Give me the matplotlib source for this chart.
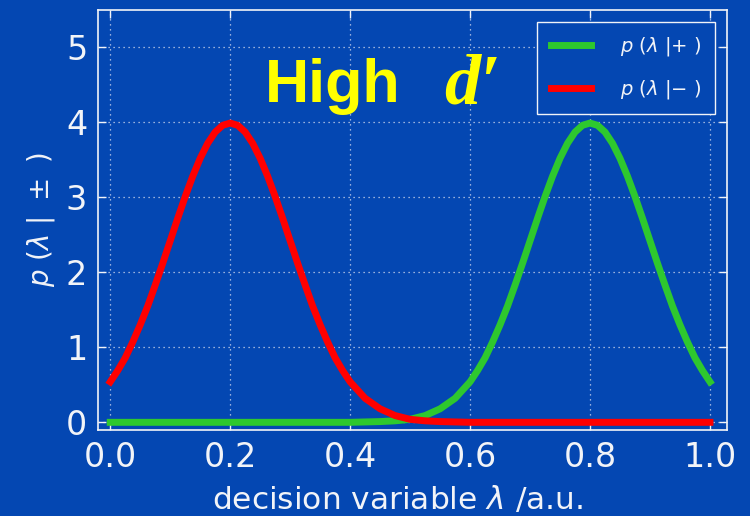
import matplotlib
matplotlib.use("Agg")
import matplotlib.pyplot as plt

# values (density curves)
x_minus = [0.0, 0.0125, 0.025, 0.0375, 0.05, 0.0625, 0.075, 0.0875, 0.1, 0.1125,
           0.125, 0.1375, 0.15, 0.1625, 0.175, 0.1875, 0.2, 0.2125, 0.225, 0.2375,
           0.25, 0.2625, 0.275, 0.2875, 0.3, 0.3125, 0.325, 0.3375, 0.35, 0.3625,
           0.375, 0.3875, 0.4, 0.425, 0.45, 0.475, 0.5, 0.525, 0.55, 0.6, 0.7,
           0.8, 0.9, 1.0]
y_minus = [0.54, 0.69, 0.86, 1.07, 1.30, 1.55, 1.83, 2.12, 2.42, 2.72,
           3.01, 3.28, 3.52, 3.72, 3.87, 3.96, 3.99, 3.96, 3.87, 3.72,
           3.52, 3.28, 3.01, 2.72, 2.42, 2.12, 1.83, 1.55, 1.30, 1.07,
           0.86, 0.69, 0.54, 0.32, 0.18, 0.09, 0.04, 0.02, 0.01, 0.0, 0.0,
           0.0, 0.0, 0.0]

x_plus = [0.0, 0.1, 0.2, 0.3, 0.4, 0.45, 0.475, 0.5, 0.525, 0.55, 0.575,
          0.6, 0.6125, 0.625, 0.6375, 0.65, 0.6625, 0.675, 0.6875, 0.7, 0.7125,
          0.725, 0.7375, 0.75, 0.7625, 0.775, 0.7875, 0.8, 0.8125, 0.825, 0.8375,
          0.85, 0.8625, 0.875, 0.8875, 0.9, 0.9125, 0.925, 0.9375, 0.95, 0.9625,
          0.975, 0.9875, 1.0]
y_plus = [0.0, 0.0, 0.0, 0.0, 0.0, 0.01, 0.02, 0.04, 0.09, 0.18, 0.32,
          0.54, 0.69, 0.86, 1.07, 1.30, 1.55, 1.83, 2.12, 2.42, 2.72,
          3.01, 3.28, 3.52, 3.72, 3.87, 3.96, 3.99, 3.96, 3.87, 3.72,
          3.52, 3.28, 3.01, 2.72, 2.42, 2.12, 1.83, 1.55, 1.30, 1.07,
          0.86, 0.69, 0.54]

x_ticks = [0.0, 0.2, 0.4, 0.6, 0.8, 1.0]
y_ticks = [0, 1, 2, 3, 4, 5]

bg = "#0447b2"
fg = "#f2f4f8"

plt.rcParams["mathtext.fontset"] = "dejavusans"

fig = plt.figure(figsize=(7.5, 5.16), dpi=100, facecolor=bg)
ax = fig.add_axes([0.131, 0.167, 0.838, 0.814], facecolor=bg)

ax.plot(x_plus, y_plus, color="#2ec82e", lw=5, label=r"$p\ (\lambda\ |{+}\ )$")
ax.plot(x_minus, y_minus, color="#ff0000", lw=5, label=r"$p\ (\lambda\ |{-}\ )$")

ax.set_xlim(-0.02, 1.028)
ax.set_ylim(-0.1, 5.5)
ax.set_xticks(x_ticks)
ax.set_yticks(y_ticks)
ax.set_xticklabels([f"{v:.1f}" for v in x_ticks])
ax.tick_params(direction="in", colors=fg, labelsize=24, length=6, width=1,
               top=True, right=True, pad=8)
for s in ax.spines.values():
    s.set_color(fg)
    s.set_linewidth(1.2)
ax.grid(True, color="#c8d4ec", ls=(0, (1, 3)), lw=0.9)

ax.set_xlabel(r"decision variable $\lambda$ /a.u.", color=fg, fontsize=22.5, labelpad=7)
ax.xaxis.label.set_x(0.477)
ax.set_ylabel(r"$p\ (\lambda\ |\ \pm\ )$", color=fg, fontsize=20, labelpad=6)

ax.text(0.258, 4.27, "High", color="#ffff00", fontsize=44, fontweight="bold",
        family="Liberation Sans")
ax.text(0.557, 4.25, "d\u2032", color="#ffff00", fontsize=52, fontweight="bold",
        style="italic", family="Liberation Serif")

leg = ax.legend(loc="upper right", fontsize=14, frameon=True, handlelength=2.1,
                handletextpad=1.45, borderpad=0.4, labelspacing=1.0,
                borderaxespad=0.4, bbox_to_anchor=(0.984, 0.976))
leg.get_frame().set_facecolor(bg)
leg.get_frame().set_edgecolor(fg)
leg.get_frame().set_alpha(1)
leg.get_frame().set_boxstyle("square")
for t in leg.get_texts():
    t.set_color(fg)

fig.savefig("out.png", dpi=100, facecolor=bg)
